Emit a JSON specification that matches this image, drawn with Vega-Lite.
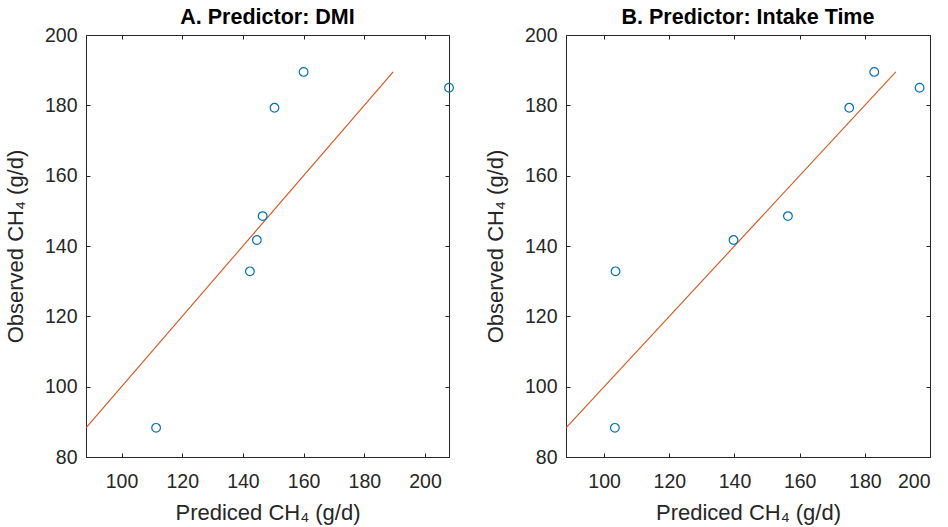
{
  "$schema": "https://vega.github.io/schema/vega-lite/v6.json",
  "background": "white",
  "padding": {"left": 4, "top": 6, "right": 2, "bottom": 2},
  "datasets": {
    "A": [
      {"pred": 111.4, "obs": 88.3},
      {"pred": 142.3, "obs": 132.8},
      {"pred": 144.6, "obs": 141.7},
      {"pred": 146.5, "obs": 148.5},
      {"pred": 150.4, "obs": 179.3},
      {"pred": 160.0, "obs": 189.5},
      {"pred": 207.9, "obs": 185.0}
    ],
    "B": [
      {"pred": 103.3, "obs": 88.3},
      {"pred": 103.5, "obs": 132.8},
      {"pred": 139.7, "obs": 141.7},
      {"pred": 156.4, "obs": 148.5},
      {"pred": 175.2, "obs": 179.3},
      {"pred": 182.9, "obs": 189.5},
      {"pred": 196.8, "obs": 185.0}
    ],
    "line": [
      {"pred": 88.3, "obs": 88.3},
      {"pred": 189.5, "obs": 189.5}
    ]
  },
  "bounds": "flush",
  "spacing": 117,
  "hconcat": [
    {
      "title": "A. Predictor: DMI",
      "width": 363,
      "height": 422,
      "resolve": {"axis": {"x": "independent", "y": "independent"}},
      "layer": [
        {
          "data": {"name": "line"},
          "mark": {"type": "line", "color": "#D95319", "strokeWidth": 1.1, "clip": false},
          "encoding": {
            "x": {"field": "pred", "type": "quantitative", "scale": {"domain": [88.3, 207.9], "nice": false, "zero": false},
                  "axis": {"orient": "bottom", "title": "Prediced CH₄ (g/d)", "values": [100, 120, 140, 160, 180, 200]}},
            "y": {"field": "obs", "type": "quantitative", "scale": {"domain": [80, 200], "nice": false, "zero": false},
                  "axis": {"orient": "left", "title": "Observed CH₄ (g/d)", "values": [80, 100, 120, 140, 160, 180, 200]}}
          }
        },
        {
          "data": {"name": "A"},
          "mark": {"type": "point", "shape": "circle", "filled": false, "color": "#0072BD", "size": 75, "strokeWidth": 1.2, "opacity": 1, "clip": false},
          "encoding": {
            "x": {"field": "pred", "type": "quantitative", "scale": {"domain": [88.3, 207.9], "nice": false, "zero": false},
                  "axis": {"orient": "top", "title": null, "labels": false, "values": [100, 120, 140, 160, 180, 200]}},
            "y": {"field": "obs", "type": "quantitative", "scale": {"domain": [80, 200], "nice": false, "zero": false},
                  "axis": {"orient": "right", "title": null, "labels": false, "values": [80, 100, 120, 140, 160, 180, 200]}}
          }
        }
      ]
    },
    {
      "title": "B. Predictor: Intake Time",
      "width": 364,
      "height": 422,
      "resolve": {"axis": {"x": "independent", "y": "independent"}},
      "layer": [
        {
          "data": {"name": "line"},
          "mark": {"type": "line", "color": "#D95319", "strokeWidth": 1.1, "clip": false},
          "encoding": {
            "x": {"field": "pred", "type": "quantitative", "scale": {"domain": [88.3, 200], "nice": false, "zero": false},
                  "axis": {"orient": "bottom", "title": "Prediced CH₄ (g/d)", "values": [100, 120, 140, 160, 180, 200]}},
            "y": {"field": "obs", "type": "quantitative", "scale": {"domain": [80, 200], "nice": false, "zero": false},
                  "axis": {"orient": "left", "title": "Observed CH₄ (g/d)", "values": [80, 100, 120, 140, 160, 180, 200]}}
          }
        },
        {
          "data": {"name": "B"},
          "mark": {"type": "point", "shape": "circle", "filled": false, "color": "#0072BD", "size": 75, "strokeWidth": 1.2, "opacity": 1, "clip": false},
          "encoding": {
            "x": {"field": "pred", "type": "quantitative", "scale": {"domain": [88.3, 200], "nice": false, "zero": false},
                  "axis": {"orient": "top", "title": null, "labels": false, "values": [100, 120, 140, 160, 180, 200]}},
            "y": {"field": "obs", "type": "quantitative", "scale": {"domain": [80, 200], "nice": false, "zero": false},
                  "axis": {"orient": "right", "title": null, "labels": false, "values": [80, 100, 120, 140, 160, 180, 200]}}
          }
        }
      ]
    }
  ],
  "config": {
    "font": "Liberation Sans",
    "view": {"stroke": null},
    "title": {"fontSize": 21.5, "fontWeight": "bold", "color": "#000000", "offset": -3, "anchor": "middle", "font": "Liberation Sans"},
    "axis": {
      "grid": false,
      "domainColor": "#262626",
      "domainWidth": 1,
      "tickColor": "#262626",
      "tickSize": -4,
      "tickWidth": 1,
      "labelColor": "#262626",
      "labelFontSize": 19.5,
      "labelFont": "Liberation Sans",
      "titleColor": "#262626",
      "titleFontSize": 22,
      "titleFontWeight": "normal",
      "titleFont": "Liberation Sans"
    },
    "axisX": {"labelPadding": 19, "titlePadding": 12},
    "axisY": {"labelPadding": 13, "titlePadding": 17}
  }
}
